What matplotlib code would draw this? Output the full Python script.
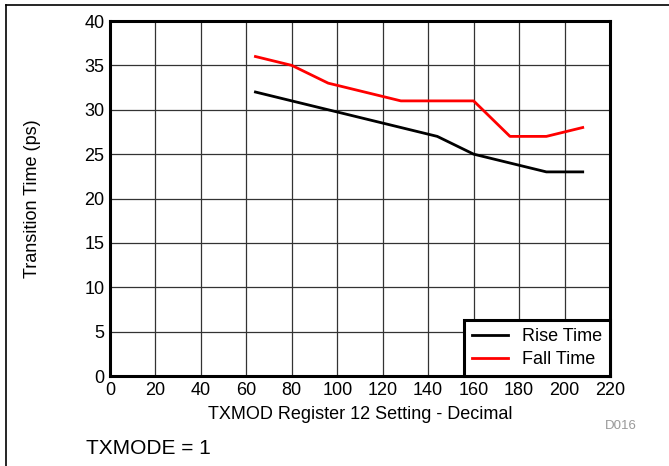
import matplotlib.pyplot as plt
from matplotlib.lines import Line2D

plt.rcParams['font.family'] = ['Liberation Sans', 'DejaVu Sans']

# datos
setting = [64, 80, 96, 112, 128, 144, 160, 176, 192, 208]
rise_time = [32, 31, 30, 29, 28, 27, 25, 24, 23, 23]
fall_time = [36, 35, 33, 32, 31, 31, 31, 27, 27, 28]

fig = plt.figure(figsize=(6.69, 4.66), dpi=100)
ax = fig.add_axes([0.1644, 0.1931, 0.7474, 0.7618])

ax.plot(setting, rise_time, color='black', lw=2, label='Rise Time')
ax.plot(setting, fall_time, color='#ff0000', lw=2, label='Fall Time')

ax.set_xlim(0, 220)
ax.set_ylim(0, 40)
ax.set_xticks(range(0, 221, 20))
ax.set_yticks(range(0, 41, 5))
ax.grid(True, color='#333333', lw=0.9)
ax.tick_params(length=0, labelsize=13, pad=4)
for s in ax.spines.values():
    s.set_linewidth(2.2)

ax.set_xlabel('TXMOD Register 12 Setting - Decimal', fontsize=13, labelpad=5)
ax.set_ylabel('Transition Time (ps)', fontsize=13, labelpad=31)

leg = ax.legend(loc='lower right', fontsize=13, fancybox=False, framealpha=1,
                edgecolor='black', borderaxespad=0, handlelength=2.0,
                borderpad=0.45, labelspacing=0.3, handletextpad=0.75)
leg.get_frame().set_linewidth(2.2)

fig.text(605 / 669, 1 - 426 / 466, 'D016', color='#999999', fontsize=9.5,
         ha='left', va='center')
fig.text(86 / 669, 1 - 448 / 466, 'TXMODE = 1', fontsize=15,
         ha='left', va='center')

# marco de la figura
fig.add_artist(Line2D([6 / 669, 1], [1 - 5 / 466] * 2, color='black', lw=1.2,
                      transform=fig.transFigure))
fig.add_artist(Line2D([6 / 669] * 2, [0, 1 - 5 / 466], color='black', lw=1.2,
                      transform=fig.transFigure))

fig.savefig('out.png', dpi=100)
